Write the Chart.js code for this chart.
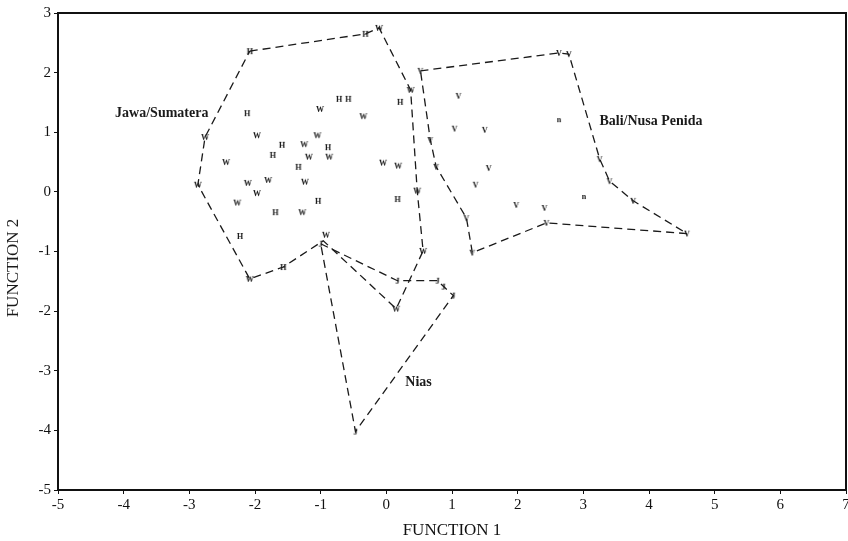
<!DOCTYPE html>
<html><head><meta charset="utf-8">
<script src="https://cdn.jsdelivr.net/npm/chart.js@4.4.1/dist/chart.umd.min.js"></script>
<style>html,body{margin:0;padding:0;background:#fff}#wrap{width:848px;height:541px}</style>
</head><body><div id="wrap"><canvas id="c" width="848" height="541"></canvas></div>
<script>
// ---- data ----
const xTicks = [-5,-4,-3,-2,-1,0,1,2,3,4,5,6,7];
const yTicks = [-5,-4,-3,-2,-1,0,1,2,3];

const jawaW = [[-0.11,2.75],[0.37,1.71],[-1.01,1.39],[-0.35,1.27],[-2.76,0.92],[-1.97,0.95],[-1.05,0.95],[-1.25,0.80],[-2.44,0.50],[-1.18,0.59],[-0.87,0.59],[-0.05,0.49],[0.18,0.44],[-2.11,0.15],[-1.80,0.20],[-1.24,0.17],[-1.97,-0.02],[-2.87,0.12],[0.47,0.02],[-2.27,-0.18],[-1.28,-0.34],[0.56,-0.99],[-0.92,-0.72],[-2.08,-1.46],[0.15,-1.96]];
const jawaH = [[-2.08,2.36],[-0.32,2.65],[-0.72,1.56],[-0.58,1.56],[0.21,1.51],[-2.12,1.32],[-1.59,0.79],[-0.89,0.75],[-1.73,0.62],[-1.34,0.42],[-1.04,-0.15],[-1.69,-0.34],[-2.23,-0.74],[0.17,-0.12],[-1.57,-1.26]];
const baliV = [[0.52,2.03],[2.63,2.33],[2.78,2.31],[3.25,0.55],[3.40,0.18],[3.76,-0.15],[4.58,-0.70],[2.44,-0.52],[1.31,-1.02],[1.22,-0.44],[0.76,0.42],[0.67,0.87],[1.10,1.61],[1.04,1.06],[1.50,1.04],[1.56,0.40],[1.36,0.12],[1.98,-0.22],[2.41,-0.27]];
const baliN = [[2.63,1.22],[3.01,-0.07]];
const niasJ = [[-1.0,-0.87],[0.17,-1.49],[0.78,-1.49],[0.87,-1.59],[1.02,-1.74],[-0.47,-4.02]];

const jawaHull = [[-2.08,2.36],[-0.32,2.65],[-0.11,2.75],[0.37,1.71],[0.47,0.02],[0.56,-0.99],[0.15,-1.96],[-0.96,-0.82],[-1.57,-1.26],[-2.08,-1.46],[-2.87,0.12],[-2.76,0.92],[-2.08,2.36]];
const baliHull = [[0.52,2.03],[2.63,2.33],[2.78,2.31],[3.25,0.55],[3.40,0.18],[3.76,-0.15],[4.58,-0.70],[2.44,-0.52],[1.31,-1.02],[1.22,-0.44],[0.76,0.42],[0.67,0.87],[0.52,2.03]];
const niasHull = [[-1.0,-0.87],[0.17,-1.49],[0.78,-1.49],[1.02,-1.74],[-0.47,-4.02],[-1.0,-0.87]];

const groupLabels = [
  {text:'Jawa/Sumatera', x:-3.42, y:1.31},
  {text:'Bali/Nusa Penida', x:4.03, y:1.19},
  {text:'Nias', x:0.49, y:-3.2}
];
// -------------------------------------

const toXY = a => a.map(p => ({x:p[0], y:p[1]}));
function letterImg(ch){
  const c = document.createElement('canvas');
  c.width = 12; c.height = 12;
  const g = c.getContext('2d');
  g.font = 'bold 8px "Liberation Serif"';
  g.fillStyle = '#111';
  g.textAlign = 'center'; g.textBaseline = 'middle';
  g.fillText(ch, 6, 6.5);
  return c;
}
const hullStyle = {showLine:true, borderColor:'#1a1a1a', borderWidth:1.3, borderDash:[8,5], pointRadius:0, fill:false, tension:0};
const ptStyle = ch => ({pointStyle:letterImg(ch), pointRadius:6, showLine:false});

const framePlugin = {
  id:'frame',
  afterDraw(chart){
    const {ctx, chartArea:a, scales} = chart;
    ctx.save();
    ctx.strokeStyle = '#111'; ctx.lineWidth = 2;
    ctx.strokeRect(a.left, a.top, a.right-a.left, a.bottom-a.top);
    ctx.fillStyle = '#1a1a1a';
    ctx.font = 'bold 14px "Liberation Serif"';
    ctx.textAlign = 'center'; ctx.textBaseline = 'middle';
    groupLabels.forEach(l => ctx.fillText(l.text, scales.x.getPixelForValue(l.x), scales.y.getPixelForValue(l.y)));
    ctx.font = '17px "Liberation Serif"';
    ctx.translate(14, 268);
    ctx.rotate(-Math.PI/2);
    ctx.fillText('FUNCTION 2', 0, 0);
    ctx.restore();
  }
};

new Chart(document.getElementById('c'), {
  type:'scatter',
  data:{datasets:[
    {label:'Jawa hull', data:toXY(jawaHull), ...hullStyle},
    {label:'Bali hull', data:toXY(baliHull), ...hullStyle},
    {label:'Nias hull', data:toXY(niasHull), ...hullStyle},
    {label:'W', data:toXY(jawaW), ...ptStyle('W')},
    {label:'H', data:toXY(jawaH), ...ptStyle('H')},
    {label:'V', data:toXY(baliV), ...ptStyle('V')},
    {label:'n', data:toXY(baliN), ...ptStyle('n')},
    {label:'J', data:toXY(niasJ), ...ptStyle('J')}
  ]},
  options:{
    responsive:false, animation:false,
    layout:{autoPadding:false, padding:{left:0, right:2, top:13, bottom:0}},
    plugins:{legend:{display:false}, tooltip:{enabled:false}},
    scales:{
      x:{type:'linear', min:-5, max:7,
        afterBuildTicks: s => { s.ticks = xTicks.map(v => ({value:v})); },
        afterFit: s => { s.height = 51; s.paddingRight = 0; },
        ticks:{color:'#111', font:{family:'"Liberation Serif"', size:15}, padding:2, maxRotation:0},
        grid:{display:true, drawOnChartArea:false, tickLength:4, color:'#111'},
        border:{display:false},
        title:{display:true, text:'FUNCTION 1', color:'#111', font:{family:'"Liberation Serif"', size:17}, padding:{top:0,bottom:0}}
      },
      y:{type:'linear', min:-5, max:3,
        afterBuildTicks: s => { s.ticks = yTicks.map(v => ({value:v})); },
        afterFit: s => { s.width = 58; },
        ticks:{color:'#111', font:{family:'"Liberation Serif"', size:15}, padding:3},
        grid:{display:true, drawOnChartArea:false, tickLength:4, color:'#111'},
        border:{display:false}
      }
    }
  },
  plugins:[framePlugin]
});
</script></body></html>
